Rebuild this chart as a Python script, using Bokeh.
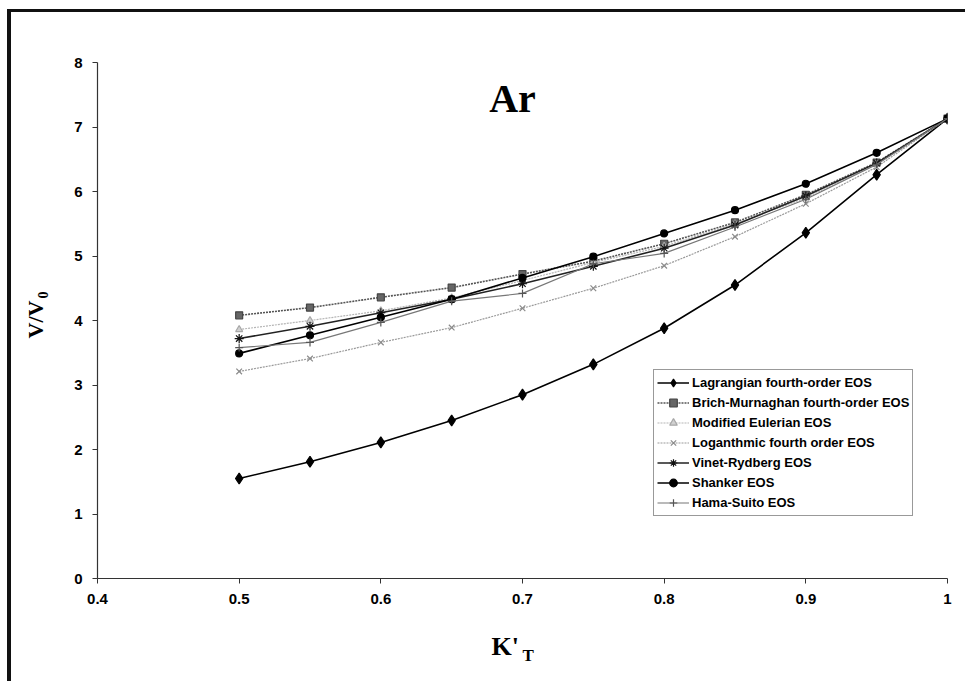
import math
from bokeh.plotting import figure
from bokeh.models import Label, Legend, LegendItem, Range1d, FixedTicker
from bokeh.embed import file_html
from bokeh.resources import INLINE

k_t = [0.5, 0.55, 0.6, 0.65, 0.7, 0.75, 0.8, 0.85, 0.9, 0.95, 1.0]

lagrangian = [1.55, 1.81, 2.11, 2.45, 2.85, 3.32, 3.88, 4.55, 5.36, 6.26, 7.13]
brich = [4.08, 4.20, 4.36, 4.51, 4.72, 4.92, 5.19, 5.52, 5.95, 6.45, 7.13]
mod_euler = [3.86, 4.00, 4.15, 4.35, 4.62, 4.90, 5.15, 5.50, 5.90, 6.43, 7.13]
logan = [3.21, 3.41, 3.66, 3.89, 4.19, 4.50, 4.85, 5.30, 5.81, 6.38, 7.13]
vinet = [3.72, 3.91, 4.12, 4.33, 4.57, 4.84, 5.12, 5.48, 5.93, 6.44, 7.13]
shanker = [3.49, 3.77, 4.05, 4.33, 4.66, 4.99, 5.35, 5.71, 6.12, 6.60, 7.13]
hama = [3.58, 3.66, 3.97, 4.30, 4.42, 4.88, 5.04, 5.45, 5.88, 6.42, 7.13]

x_ticks = [0.4, 0.5, 0.6, 0.7, 0.8, 0.9, 1.0]
x_tick_labels = {0.4: "0.4", 0.5: "0.5", 0.6: "0.6", 0.7: "0.7", 0.8: "0.8", 0.9: "0.9", 1.0: "1"}
y_ticks = [0, 1, 2, 3, 4, 5, 6, 7, 8]

series_names = [
    "Lagrangian fourth-order EOS",
    "Brich-Murnaghan fourth-order EOS",
    "Modified Eulerian EOS",
    "Loganthmic fourth order EOS",
    "Vinet-Rydberg EOS",
    "Shanker EOS",
    "Hama-Suito EOS",
]

SANS = "Liberation Sans"
SERIF = "Liberation Serif"

W, H = 958, 672

p = figure(
    width=W, height=H,
    x_range=Range1d(0.4, 1.0), y_range=Range1d(0, 8),
    output_backend="svg", toolbar_location=None,
    min_border_left=86, min_border_right=22, min_border_top=50, min_border_bottom=106,
    background_fill_color="white", border_fill_color="white",
)
p.styles = {"margin-left": "7px", "margin-top": "9px",
            "border-left": "4px solid #111", "border-top": "3px solid #111"}
p.outline_line_color = None
p.xgrid.visible = False
p.ygrid.visible = False

p.xaxis.ticker = FixedTicker(ticks=x_ticks)
p.xaxis.major_label_overrides = x_tick_labels
p.yaxis.ticker = FixedTicker(ticks=y_ticks)
for ax in (p.xaxis, p.yaxis):
    ax.minor_tick_line_color = None
    ax.axis_line_color = "#333333"
    ax.axis_line_width = 1.2
    ax.major_tick_line_color = "#333333"
    ax.major_tick_out = 5
    ax.major_tick_in = 0
    ax.major_label_text_font = SANS
    ax.major_label_text_font_style = "bold"
    ax.major_label_text_font_size = "15px"
    ax.major_label_text_color = "black"
p.xaxis.major_label_standoff = 10
p.yaxis.major_label_standoff = 10

items = []

def add(name, ys, line_color, line_width, line_dash, marker, msize, mfill, mline):
    r1 = p.line(k_t, ys, line_color=line_color, line_width=line_width, line_dash=line_dash)
    r2 = p.scatter(k_t, ys, marker=marker, size=msize, fill_color=mfill,
                   line_color=mline, line_width=1.2)
    items.append(LegendItem(label=name, renderers=[r1, r2]))

add(series_names[0], lagrangian, "black", 1.6, "solid", "diamond", 11, "black", "black")
add(series_names[1], brich, "#555555", 1.6, "2 1", "square", 7, "#666666", "#444444")
add(series_names[2], mod_euler, "#b5b5b5", 1.2, "2 1", "triangle", 7, "#d0d0d0", "#a8a8a8")
add(series_names[3], logan, "#9a9a9a", 1.2, "2 1", "x", 8, None, "#8a8a8a")
add(series_names[4], vinet, "#222222", 1.6, "solid", "asterisk", 9, None, "#111111")
add(series_names[5], shanker, "black", 1.6, "solid", "circle", 7, "black", "black")
add(series_names[6], hama, "#777777", 1.2, "solid", "cross", 8, None, "#555555")

legend = Legend(items=items, location=(556, 62))
legend.border_line_color = "#333333"
legend.border_line_width = 1
legend.background_fill_color = "white"
legend.label_text_font = SANS
legend.label_text_font_style = "bold"
legend.label_text_font_size = "13px"
legend.label_text_color = "black"
legend.label_height = 19
legend.glyph_height = 19
legend.glyph_width = 32
legend.label_standoff = 3
legend.spacing = 1
legend.padding = 3
legend.margin = 0
p.add_layout(legend, "center")

def px_to_x(px):
    return 0.4 + (px - 97) / 850 * 0.6

def py_to_y(py):
    return (578 - py) / 516 * 8

# Title
p.add_layout(Label(x=px_to_x(512), y=py_to_y(98), text="Ar", text_align="center",
                   text_baseline="alphabetic", text_font=SERIF,
                   text_font_style="bold", text_font_size="40px", text_color="black"))

# X axis title K'T in the below panel
p.add_layout(Label(x=px_to_x(491), y=-11, y_units="screen", text="K'",
                   text_align="left", text_baseline="alphabetic", text_font=SERIF,
                   text_font_style="bold", text_font_size="26px", text_color="black"), "below")
p.add_layout(Label(x=px_to_x(522), y=-1, y_units="screen", text="T",
                   text_align="left", text_baseline="alphabetic", text_font=SERIF,
                   text_font_style="bold", text_font_size="17px", text_color="black"), "below")
# Y axis title V/V0 in the left panel
p.add_layout(Label(x=-11, x_units="screen", y=py_to_y(338), text="V/V",
                   angle=math.pi / 2, text_align="left", text_baseline="alphabetic",
                   text_font=SERIF, text_font_style="bold", text_font_size="22px",
                   text_color="black"), "left")
p.add_layout(Label(x=6, x_units="screen", y=py_to_y(298), text="0",
                   angle=math.pi / 2, text_align="left", text_baseline="alphabetic",
                   text_font=SERIF, text_font_style="bold", text_font_size="14px",
                   text_color="black"), "left")

open("out.html", "w").write(file_html(p, INLINE))
